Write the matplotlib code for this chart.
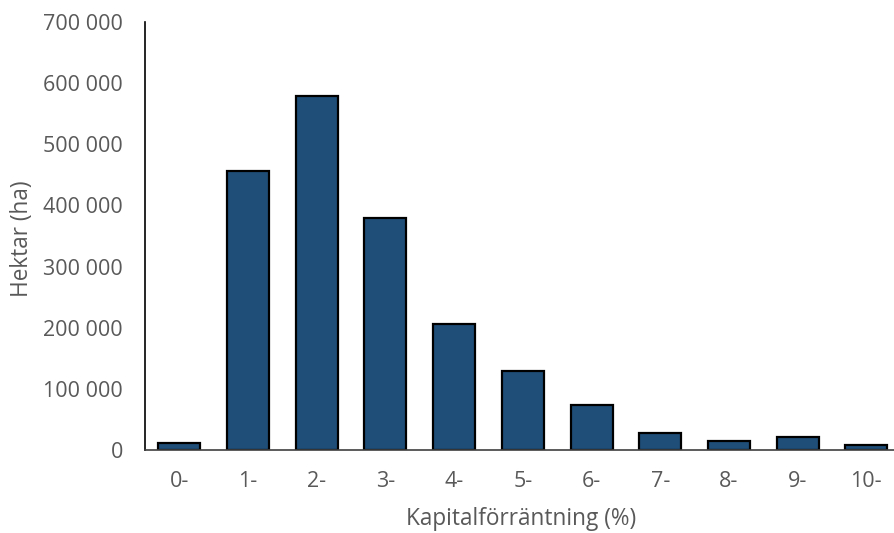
import matplotlib
matplotlib.use("Agg")
import matplotlib.pyplot as plt
from matplotlib.ticker import FuncFormatter, MultipleLocator

categories = ["0-", "1-", "2-", "3-", "4-", "5-", "6-", "7-", "8-", "9-", "10-"]
hectares = [12000, 457000, 579000, 380000, 206000, 130000, 73000, 27000, 15000, 21000, 8000]

plt.rcParams['font.family'] = ['Open Sans', 'DejaVu Sans']
text_color = "#595959"

fig = plt.figure(figsize=(8.95, 5.33), dpi=100)
ax = fig.add_axes([145/895, 83/533, 750/895, 428/533])

x = list(range(len(categories)))
ax.bar(x, hectares, width=0.61, color="#1F4E79", edgecolor="black", linewidth=1.6, zorder=3)

ax.set_xlim(-0.5, -0.5 + 750/68.7)
ax.set_ylim(0, 700000)
ax.yaxis.set_major_locator(MultipleLocator(100000))
ax.yaxis.set_major_formatter(FuncFormatter(lambda v, p: f"{int(v):,}".replace(",", " ")))
ax.set_xticks(x)
ax.set_xticklabels(categories)

for s in ["top", "right"]:
    ax.spines[s].set_visible(False)
ax.spines["left"].set_color("black")
ax.spines["left"].set_linewidth(1.2)
ax.spines["bottom"].set_color("#404040")
ax.spines["bottom"].set_linewidth(1.2)
ax.spines["bottom"].set_zorder(4)

ax.tick_params(axis="both", length=0, labelsize=15.5, colors=text_color)
ax.tick_params(axis="y", pad=16)
ax.tick_params(axis="x", pad=15)

ax.set_xlabel("Kapitalförräntning (%)", fontsize=16.3, color=text_color)
ax.set_ylabel("Hektar (ha)", fontsize=16.3, color=text_color)
ax.xaxis.set_label_coords((521-145)/750, -(507-450)/428)
ax.yaxis.set_label_coords(-(145-34)/750, (450-239)/428)

fig.savefig("out.png", dpi=100)
